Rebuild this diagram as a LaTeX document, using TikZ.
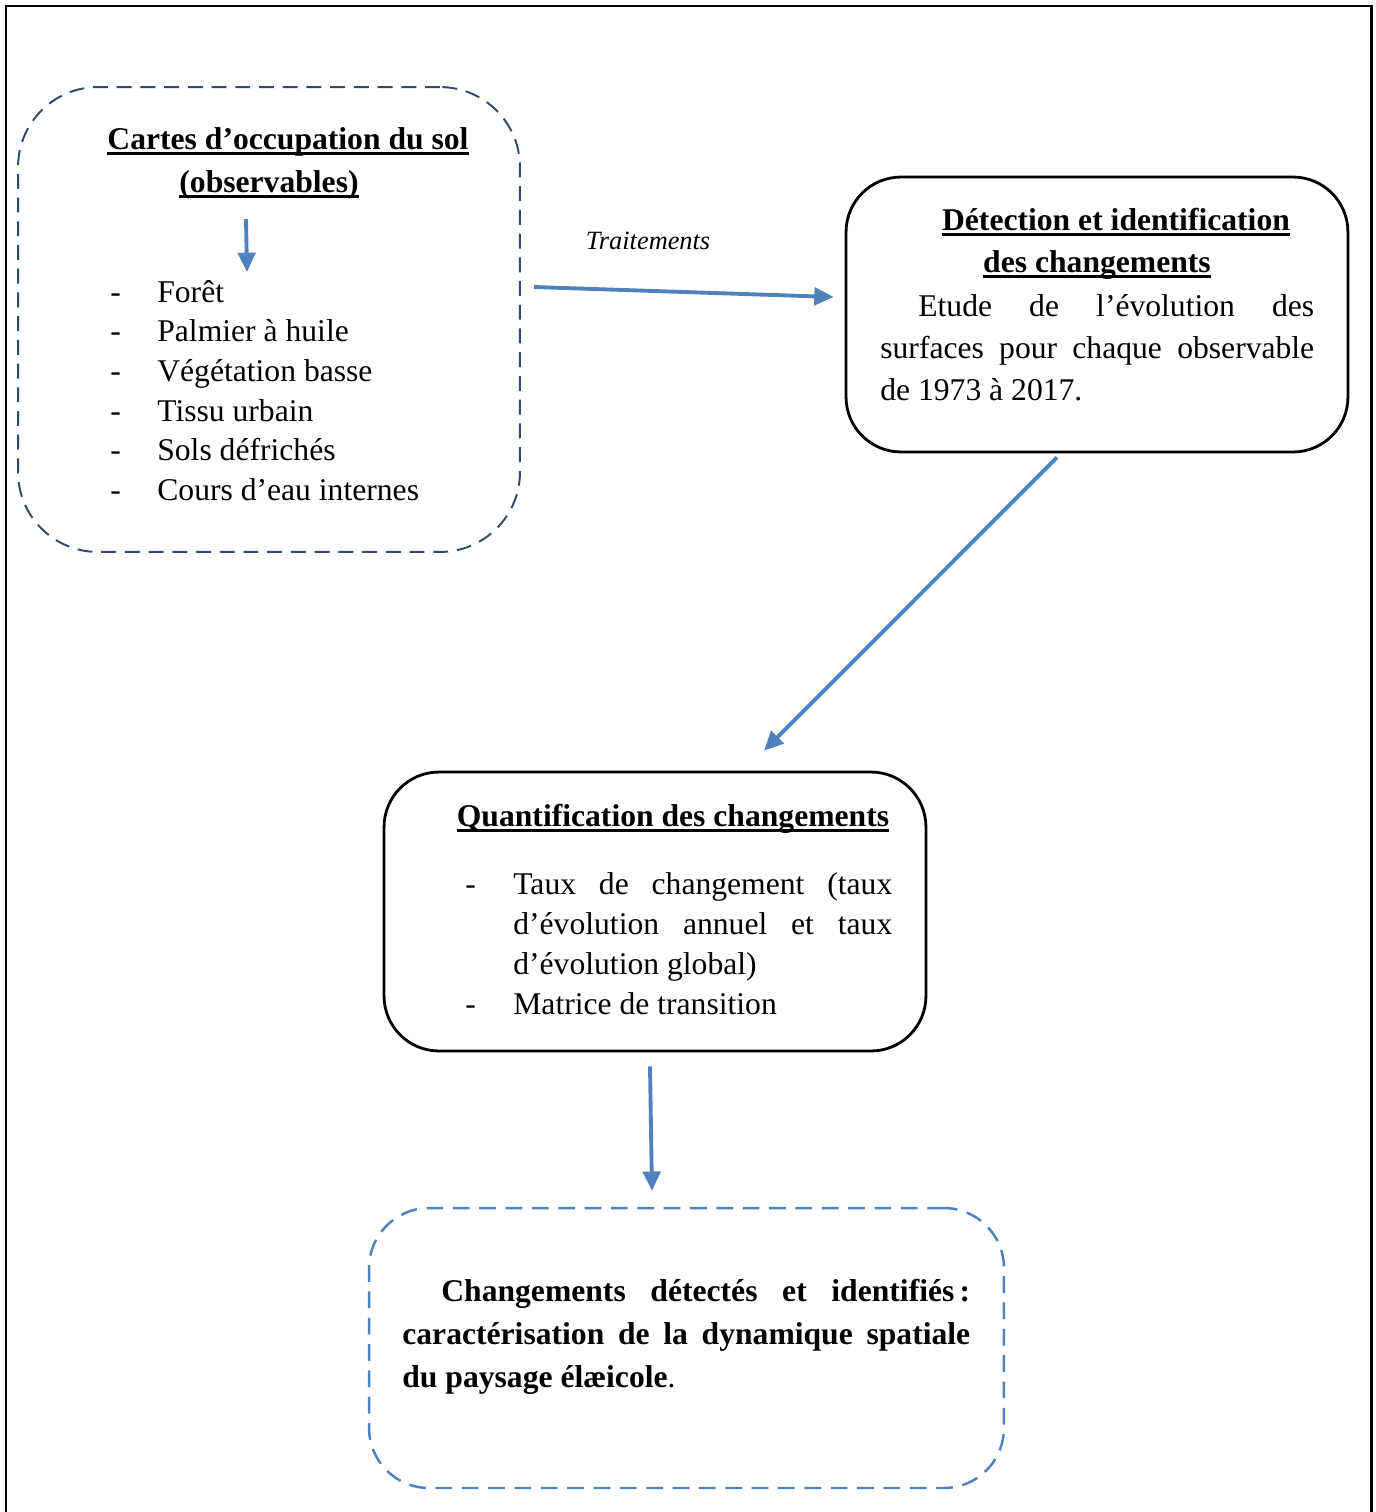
\documentclass[tikz,border=0pt]{standalone}
\usepackage{fontspec}
\setmainfont{Liberation Serif}
\usetikzlibrary{arrows.meta}
\definecolor{arrowblue}{HTML}{4F81BD}
\definecolor{darkdash}{HTML}{2F4A6C}
\newsavebox\ttlbox
\newcommand\ttl[1]{\sbox\ttlbox{\bfseries #1}\rlap{\rule[-3.4pt]{\wd\ttlbox}{1.5pt}}\usebox\ttlbox}
\tikzset{
  flow/.style = {draw = arrowblue, line width = 2.2pt, -{Triangle[length = 11pt, width = 10pt]}},
  solidbox/.style = {draw, line width = 1.6pt, rounded corners = 1.1cm, inner sep = 0pt},
  obsbox/.style = {draw = darkdash, line width = 1.1pt, dash pattern = on 8.5pt off 5pt, rounded corners = 1.6cm},
  resbox/.style = {draw = arrowblue, line width = 1.4pt, dash pattern = on 9.5pt off 5.5pt, rounded corners = 1.2cm},
  txt/.style = {inner sep = 0pt, font = \fontsize{18}{23.9}\selectfont}
}
\begin{document}
\begin{tikzpicture}[x = 0.02cm, y = -0.02cm]
\useasboundingbox (0,0) rectangle (1376,1512);
\draw[line width = 1.7pt] (6,1530) -- (6,6) -- (1371,6) -- (1371,1530);
% boxes
\node[obsbox, minimum width = 10.04cm, minimum height = 9.3cm] (cartes) at (269,319.5) {};
\node[solidbox, minimum width = 10.04cm, minimum height = 5.5cm] (detect) at (1097,314.5) {};
\node[solidbox, minimum width = 10.84cm, minimum height = 5.58cm] (quant) at (655,911.5) {};
\node[resbox, minimum width = 12.7cm, minimum height = 5.6cm] (result) at (686.5,1348) {};
% observables
\node[txt, anchor = base] (cartesA) at (288,149) {\ttl{Cartes d’occupation du sol}};
\node[txt, anchor = base] (cartesB) at (269,192) {\ttl{(observables)}};
\foreach \lab [count = \i] in {Forêt, Palmier à huile, Végétation basse, Tissu urbain, Sols défrichés, Cours d’eau internes} {
  \node[txt, anchor = base west] (dash\i) at (110,{262.3+39.7*\i}) {-};
  \node[txt, anchor = base west] (item\i) at (157,{262.3+39.7*\i}) {\lab};
}
\coordinate (lstTop) at (247,272);
\draw[flow] ([shift = {(-23,20)}]cartesB.south) -- (lstTop);
% detection
\node[inner sep = 0pt, anchor = base, font = \fontsize{15}{18}\selectfont\itshape] (trt) at (648,249) {Traitements};
\draw[flow] ([shift = {(13,-32.5)}]cartes.east) -- ([shift = {(-11,-17.5)}]detect.west);
\node[txt, anchor = base] (detA) at (1116,230) {\ttl{Détection et identification}};
\node[txt, anchor = base] (detB) at (1097,272) {\ttl{des changements}};
\node[txt, text width = 8.68cm, align = justify, anchor = north west] (detC) at (880,294)
  {\hspace*{0.76cm}Etude de l’évolution des\linebreak surfaces pour chaque observable\linebreak de 1973 à 2017.};
% quantification
\draw[flow] ([shift = {(-40,4)}]detect.south) -- ([shift = {(109,-20)}]quant.north);
\node[txt, anchor = base] (qtA) at (673,826) {\ttl{Quantification des changements}};
\node[txt, anchor = base west] (qd1) at (465,894) {-};
\node[txt, text width = 7.58cm, align = justify, anchor = north west, font = \fontsize{18}{22.8}\selectfont] (qt1) at (513,872)
  {Taux de changement (taux\linebreak d’évolution annuel et taux\linebreak d’évolution global)};
\node[txt, anchor = base west] (qd2) at (465,1014) {-};
\node[txt, anchor = base west] (qt2) at (513,1014) {Matrice de transition};
% result
\draw[flow] ([shift = {(-5,14)}]quant.south) -- ([shift = {(-34.5,-16)}]result.north);
\node[txt, text width = 11.36cm, align = justify, anchor = north west, font = \fontsize{18}{24.5}\selectfont\bfseries] (resT) at (402,1279)
  {\hspace*{0.78cm}Changements détectés et identifiés\kern3pt:\linebreak caractérisation de la dynamique spatiale\linebreak du paysage élæicole{\mdseries.}};
\end{tikzpicture}
\end{document}
